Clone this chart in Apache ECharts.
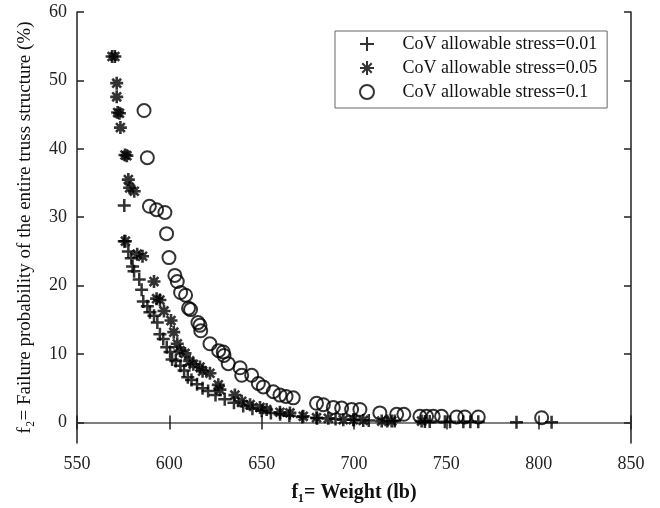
<!DOCTYPE html>
<html>
<head>
<meta charset="utf-8">
<script src="https://cdn.jsdelivr.net/npm/echarts@6/dist/echarts.min.js"></script>
<style>html,body{margin:0;padding:0;background:#fff}#c{width:660px;height:508px}</style>
</head>
<body>
<div id="c"></div>
<script>
// CoV allowable stress = 0.01 (plus)
const weight001 = [575.6,575.6,577.8,579.4,580.1,580.9,583.7,585,585.9,588.1,589.5,591.7,593.5,594.9,596.7,598.6,600.4,601.5,603.5,606,608,610,612,615,618,621,625,630,635,640,645,650,655,660,665,672,680,690,700,708,718,722,738.4,741,749.2,752,759.2,763,767.3,788,807];
const prob001   = [31.7,26.5,25,24,22.8,22.1,20.9,19.4,17.7,17,16.1,15.6,14.6,12.9,12.2,11,10.3,9.2,9.0,8.3,7.6,6.6,6.2,5.6,5.0,4.6,4.0,3.4,2.9,2.4,2.0,1.7,1.4,1.2,1.0,0.8,0.6,0.5,0.4,0.3,0.2,0.2,0.15,0.15,0.1,0.1,0.1,0.1,0.1,0.05,0.02];
// CoV allowable stress = 0.05 (asterisk)
const weight005 = [569,570.5,571.5,571.5,572,573,573.5,576,577,577.8,578.5,581,576.2,582.6,585.5,591.7,593.1,594.9,597.1,600.9,602.4,604.3,605.8,608.5,611,613,616.6,618,622,626.5,627.4,635.5,639.2,643.7,649.1,652.7,659.9,665.3,672.5,679.7,686.1,694.2,699.6,705,715,720.4,736.6];
const prob005   = [53.5,53.5,49.6,47.6,45.3,45.2,43.1,39.1,39,35.5,34.3,33.8,26.5,24.6,24.3,20.6,18.1,17.9,16.3,14.9,13.2,11.5,10.5,10.1,9.0,8.5,8.1,7.5,7.2,5.5,4.8,4.0,3.1,2.6,2.2,1.9,1.5,1.4,0.9,0.7,0.6,0.4,0.4,0.3,0.2,0.2,0.2];
// CoV allowable stress = 0.1 (circle)
const weight01 = [586.3,588.1,589.2,593.1,597.6,598.5,599.8,603,604.3,606.1,608.8,610.4,611.5,615.5,616.6,617,622,626.7,629.2,629.6,631.9,638.3,639.2,644.6,648.2,650.9,656.3,659.9,663.2,667.1,679.7,683.4,688.8,693.3,698.7,703.2,714,723.1,727,735.7,739.3,742.9,747.4,755.6,760,767.3,801.6];
const prob01   = [45.6,38.7,31.6,31.1,30.7,27.6,24.1,21.5,20.6,19,18.6,16.7,16.5,14.6,14.2,13.4,11.5,10.5,10.3,9.8,8.6,8.0,6.9,6.9,5.7,5.2,4.5,4.0,3.8,3.6,2.8,2.6,2.2,2.1,1.9,1.9,1.4,1.2,1.2,0.9,0.9,0.9,0.9,0.8,0.8,0.8,0.7];

const seriesNames = ['CoV allowable stress=0.01','CoV allowable stress=0.05','CoV allowable stress=0.1'];
const xTicks = [550,600,650,700,750,800,850];
const yTicks = [0,10,20,30,40,50,60];

const zip = (a,b) => a.map((v,i)=>[v,b[i]]);
const FONT = 'Liberation Serif';
const PLUS = 'path://M0,5L10,5M5,0L5,10';
const STAR = 'path://M5,0L5,10M0,5L10,5M1.6,1.6L8.4,8.4M1.6,8.4L8.4,1.6';

const chart = echarts.init(document.getElementById('c'), null, {renderer:'canvas'});
const axisLineV = {show:true, lineStyle:{color:'#222', width:1.5}};
const axisLineH = {show:true, lineStyle:{color:'#777', width:1.5}};
chart.setOption({
  animation:false,
  backgroundColor:'#fff',
  grid:{left:77, right:29, top:12, bottom:59, containLabel:false},
  legend:{
    orient:'vertical', left:335, top:31,
    padding:[4,10,7,24], itemGap:6,
    itemWidth:15, itemHeight:14,
    borderColor:'#666', borderWidth:1,
    data:seriesNames,
    textStyle:{fontFamily:FONT, fontSize:18, lineHeight:17, color:'#111', padding:[0,0,0,23]}
  },
  xAxis:[{
    type:'value', min:550, max:850, interval:50, position:'bottom',
    name:'f\u2081= Weight (lb)', nameLocation:'middle', nameGap:40,
    nameTextStyle:{fontFamily:FONT, fontSize:20, fontWeight:'bold', color:'#111'},
    axisLine:axisLineH,
    axisTick:{show:true, inside:true, length:7, lineStyle:{color:'#222', width:1.5}, customValues:xTicks},
    axisLabel:{fontFamily:FONT, fontSize:18, color:'#222', margin:12, customValues:xTicks},
    splitLine:{show:false}
  },{
    type:'value', min:550, max:850, interval:50, position:'top',
    axisLine:axisLineH,
    axisTick:{show:true, inside:true, length:7, lineStyle:{color:'#222', width:1.5}, customValues:xTicks},
    axisLabel:{show:false}, splitLine:{show:false}
  }],
  yAxis:[{
    type:'value', min:-3, max:60, position:'left',
    name:'f\u2082= Failure probability of the entire truss structure (%)', nameLocation:'middle', nameGap:42,
    nameTextStyle:{fontFamily:FONT, fontSize:19, color:'#111'},
    axisLine:axisLineV,
    axisTick:{show:true, inside:true, length:7, lineStyle:{color:'#222', width:1.5}, customValues:yTicks},
    axisLabel:{fontFamily:FONT, fontSize:18, color:'#222', margin:10, customValues:yTicks},
    splitLine:{show:false}
  },{
    type:'value', min:-3, max:60, position:'right',
    axisLine:axisLineV,
    axisTick:{show:true, inside:true, length:7, lineStyle:{color:'#222', width:1.5}, customValues:yTicks},
    axisLabel:{show:false}, splitLine:{show:false}
  }],
  series:[
    {name:seriesNames[0], type:'scatter', symbol:PLUS, symbolSize:13,
     itemStyle:{color:'rgba(0,0,0,0)', borderColor:'#000', borderWidth:2.5},
     data:zip(weight001, prob001)},
    {name:seriesNames[1], type:'scatter', symbol:STAR, symbolSize:13,
     itemStyle:{color:'rgba(0,0,0,0)', borderColor:'#000', borderWidth:2.6},
     data:zip(weight005, prob005)},
    {name:seriesNames[2], type:'scatter', symbol:'circle', symbolSize:13,
     itemStyle:{color:'rgba(0,0,0,0)', borderColor:'#000', borderWidth:2},
     data:zip(weight01, prob01)}
  ]
});
</script>
</body>
</html>
